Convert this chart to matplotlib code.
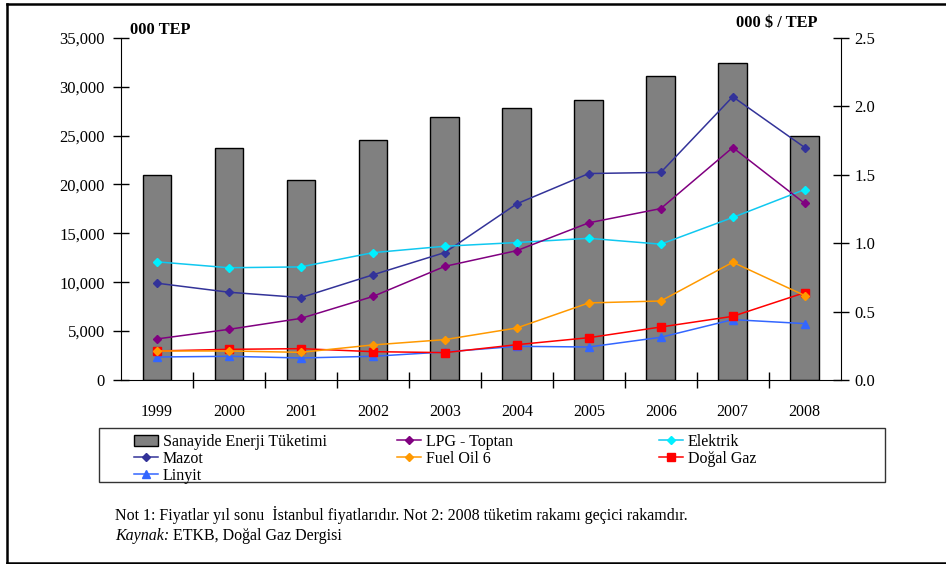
import matplotlib
matplotlib.use("Agg")
import matplotlib.pyplot as plt
from matplotlib.lines import Line2D
from matplotlib.patches import Rectangle, Patch
from matplotlib.text import Annotation
from matplotlib.ticker import FuncFormatter, FixedLocator

plt.rcParams['font.family'] = ['Liberation Serif', 'DejaVu Serif']

years = ['1999', '2000', '2001', '2002', '2003', '2004', '2005', '2006', '2007', '2008']

# industrial energy consumption (thousand TOE)
consumption = [21000, 23700, 20500, 24500, 26900, 27800, 28600, 31100, 32400, 24900]

# year-end Istanbul prices (thousand $ / TOE)
lpg = [0.30, 0.37, 0.45, 0.61, 0.83, 0.945, 1.148, 1.252, 1.698, 1.29]
elektrik = [0.863, 0.82, 0.826, 0.93, 0.977, 1.004, 1.035, 0.992, 1.187, 1.391]
mazot = [0.707, 0.641, 0.602, 0.768, 0.931, 1.287, 1.508, 1.516, 2.069, 1.698]
fuel_oil = [0.212, 0.212, 0.202, 0.256, 0.295, 0.38, 0.563, 0.577, 0.86, 0.617]
dogal_gaz = [0.212, 0.224, 0.229, 0.207, 0.20, 0.258, 0.309, 0.387, 0.465, 0.638]
linyit = [0.168, 0.173, 0.161, 0.173, 0.205, 0.246, 0.241, 0.312, 0.441, 0.412]

W, H = 946, 564
fig = plt.figure(figsize=(W / 100, H / 100), dpi=100)


def fx(px):
    return px / W


def fy(py):
    return 1 - py / H


ax = fig.add_axes([fx(121), fy(380), fx(840.7) - fx(121), fy(37.7) - fy(380)])
x = list(range(len(years)))

ax.bar(x, consumption, width=0.4, color='#808080', edgecolor='black',
       linewidth=1.0, zorder=2)
ax.set_xlim(-0.5, len(years) - 0.5)
ax.set_ylim(0, 35000)
ax.set_yticks(range(0, 35001, 5000))
ax.yaxis.set_major_formatter(FuncFormatter(lambda v, p: f"{int(v):,}"))
ax.set_xticks(x)
ax.set_xticklabels(years)
ax.xaxis.set_minor_locator(FixedLocator([i + 0.5 for i in range(len(years) - 1)]))
ax.tick_params(axis='x', which='major', length=0, pad=17, labelsize=11.5)
ax.tick_params(axis='x', which='minor', direction='inout', length=11, width=1)
ax.tick_params(axis='y', direction='inout', length=11, width=1, pad=6, labelsize=12)
for s in ['top', 'right']:
    ax.spines[s].set_visible(False)

ax2 = ax.twinx()
ax2.set_ylim(0, 2.5)
ax2.set_yticks([0, 0.5, 1.0, 1.5, 2.0, 2.5])
ax2.yaxis.set_major_formatter(FuncFormatter(lambda v, p: f"{v:.1f}"))
ax2.tick_params(axis='y', direction='inout', length=11, width=1, pad=4.5, labelsize=12)
for s in ['top', 'left', 'bottom']:
    ax2.spines[s].set_visible(False)

series = [
    ('LPG - Toptan', lpg, '#800080', '#800080', 'D', 4),
    ('Elektrik', elektrik, '#10C8F0', '#00F0FF', 'D', 4),
    ('Mazot', mazot, '#333399', '#333399', 'D', 4),
    ('Fuel Oil 6', fuel_oil, '#FF9900', '#FF9900', 'D', 4),
    ('Doğal Gaz', dogal_gaz, '#FF0000', '#FF0000', 's', 5.5),
    ('Linyit', linyit, '#3366FF', '#3366FF', '^', 6),
]
handles = {}
for name, vals, lc, mc, mk, ms in reversed(series):
    ln, = ax2.plot(x, vals, color=lc, lw=1.1, marker=mk, markersize=ms,
                   markerfacecolor=mc, markeredgecolor=mc)
    handles[name] = ln

bar_handle = Patch(facecolor='#808080', edgecolor='black', linewidth=1.0)

# axis unit captions
fig.text(fx(130), fy(30), '000 TEP', fontsize=11.8, fontweight='bold',
         ha='left', va='center')
fig.text(fx(817), fy(23), '000 $ / TEP', fontsize=11.8, fontweight='bold',
         ha='right', va='center')

# legend laid out as three fixed columns inside one frame
leg_kw = dict(loc='upper left', frameon=False, borderpad=0, fontsize=11.5,
              handlelength=1.5, handletextpad=0.3, labelspacing=0.05,
              borderaxespad=0)
columns = [
    (134, [bar_handle, handles['Mazot'], handles['Linyit']],
     ['Sanayide Enerji Tüketimi', 'Mazot', 'Linyit']),
    (397, [handles['LPG - Toptan'], handles['Fuel Oil 6']],
     ['LPG - Toptan', 'Fuel Oil 6']),
    (659, [handles['Elektrik'], handles['Doğal Gaz']],
     ['Elektrik', 'Doğal Gaz']),
]
for left_px, hs, ls in columns:
    fig.legend(hs, ls, bbox_to_anchor=(fx(left_px), fy(434)), **leg_kw)

fig.add_artist(Rectangle((fx(99), fy(482)), fx(885) - fx(99), fy(428) - fy(482),
                         transform=fig.transFigure, fill=False,
                         edgecolor='#333333', linewidth=1.0))

# notes and source
fig.text(fx(115), fy(515),
         'Not 1: Fiyatlar yıl sonu  İstanbul fiyatlarıdır. Not 2: 2008 tüketim rakamı geçici rakamdır.',
         fontsize=11.5, ha='left', va='center')
src = fig.text(fx(115), fy(536), 'Kaynak:', fontsize=11.5, style='italic',
               ha='left', va='center')
fig.add_artist(Annotation(' ETKB, Doğal Gaz Dergisi', xy=(1, 0), xycoords=src,
                          va='bottom', ha='left', fontsize=11.5))

# outer frame
for xs, ys in [([fx(7), fx(7)], [fy(4), fy(563)]),
               ([fx(7), 1.0], [fy(4), fy(4)]),
               ([fx(7), 1.0], [fy(563), fy(563)])]:
    fig.add_artist(Line2D(xs, ys, transform=fig.transFigure, color='black', lw=1.8))

fig.savefig('out.png', dpi=100)
